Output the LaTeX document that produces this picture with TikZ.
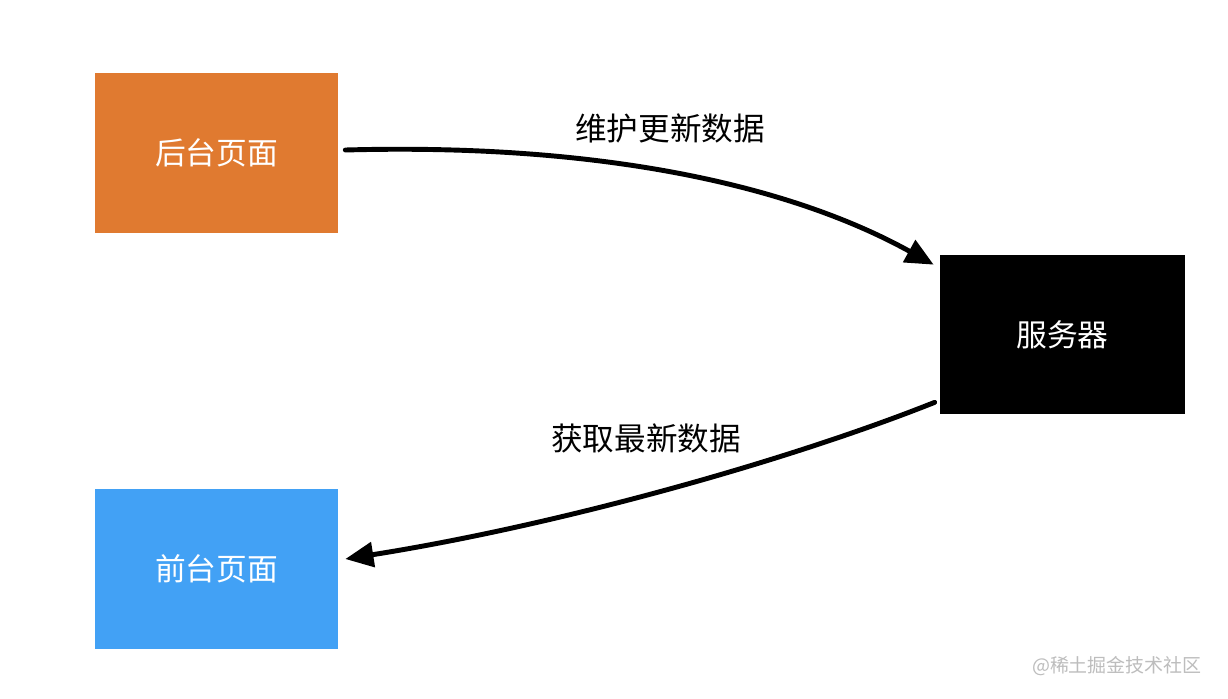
\documentclass[tikz,border=0pt]{standalone}
\usepackage{fontspec}
\newfontfamily\cjk{Noto Sans CJK SC}
\usetikzlibrary{arrows.meta,calc}
\definecolor{orangebox}{HTML}{E07A30}
\definecolor{bluebox}{HTML}{42A1F5}
\definecolor{wmgray}{HTML}{BDBDBD}
\begin{document}
\begin{tikzpicture}[x=0.02cm,y=-0.02cm,
  box/.style={minimum width=4.86cm,minimum height=3.2cm,inner sep=0pt,text=white,font=\cjk\fontsize{17.5}{20}\selectfont},
  lbl/.style={font=\cjk\fontsize{18}{21}\selectfont,text=black},
  conn/.style={line width=2.8pt,line cap=round,-{Triangle[length=16pt,width=14pt]}}]
\path[use as bounding box,fill=white] (0,0) rectangle (1228,698);
\node[box,fill=orangebox] (bt) at (216.5,153) {后台页面};
\node[box,fill=bluebox] (ft) at (216.5,569) {前台页面};
\node[box,fill=black,minimum width=4.9cm,minimum height=3.18cm] (srv) at (1062.5,334.5) {服务器};
\draw[conn] ($(bt.east)+(7,-3)$) .. controls (600,143) and (790,185) .. ($(srv.north west)+(-6,10)$);
\draw[conn] ($(srv.south west)+(-5,-12)$) .. controls (790,460) and (560,525) .. ($(ft.east)+(7,-10)$);
\node[lbl] (l1) at (670,128) {维护更新数据};
\node[lbl] (l2) at (646,438) {获取最新数据};
\node[font=\cjk\fontsize{10.8}{13}\selectfont,text=wmgray,anchor=east] (wm) at (1208,666) {@稀土掘金技术社区};
\end{tikzpicture}
\end{document}
